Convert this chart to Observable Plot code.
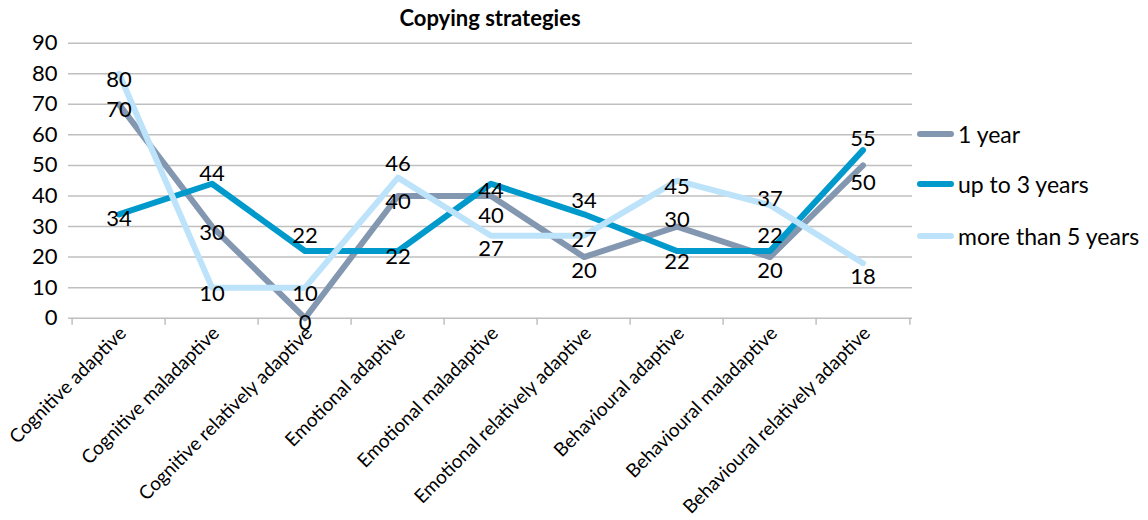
<!DOCTYPE html>
<html><head><meta charset="utf-8">
<script src="https://cdn.jsdelivr.net/npm/d3@7"></script>
<script src="https://cdn.jsdelivr.net/npm/@observablehq/plot@0.6"></script>
<style>
body{margin:0;background:#fff;font-family:Lato,sans-serif;}
#wrap{position:relative;width:1148px;height:520px;overflow:hidden;}
#title{height:34px;box-sizing:border-box;padding-top:7px;font-size:22px;font-weight:bold;line-height:1;width:980px;text-align:center;color:#000;}
.leg{position:absolute;left:917px;display:flex;align-items:center;font-size:23px;color:#000;white-space:nowrap;}
.sw{width:37px;height:6px;border-radius:3px;margin-right:4px;}
</style></head>
<body>
<div id="wrap">
<div id="title">Copying strategies</div>
<div id="chart"></div>
<div id="legend"></div>
</div>
<script>
const categories = ["Cognitive adaptive","Cognitive maladaptive","Cognitive relatively adaptive","Emotional adaptive","Emotional maladaptive","Emotional relatively adaptive","Behavioural adaptive","Behavioural maladaptive","Behavioural relatively adaptive"];
const seriesNames = ["1 year","up to 3 years","more than 5 years"];
const oneYear   = [70,30,0,40,40,20,30,20,50];
const upTo3     = [34,44,22,22,44,34,22,22,55];
const moreThan5 = [80,10,10,46,27,27,45,37,18];
const yTicks = [0,10,20,30,40,50,60,70,80,90];
const colors = ["#8497B0","#0099CC","#BDE3FA"];
// label vertical offsets (px), style only
const labelDy = [
  [6,6,5,6,20,14,-7,14,18],
  [5,-10,-15,6,7,-13,11,-15,-11],
  [6,6,6,-14,13,4,6,-6,14]
];

const W = 1148, H = 486, mL = 68, mR = 236, mT = 8.7, mB = 202.3;
const bw = (W - mL - mR) / categories.length;

const seriesVals = [oneYear, upTo3, moreThan5];
const rows = [];
seriesVals.forEach((vals, s) => vals.forEach((v, i) => rows.push({cat: categories[i], value: v, series: seriesNames[s], s, i})));

const gridColor = "#BFBFBF";
const marks = [
  Plot.ruleY(yTicks, {stroke: gridColor, strokeWidth: 1.5}),
  Plot.ruleX(categories, {x: d => d, y1: 0, y2: -2.3, dx: -bw/2, stroke: gridColor, strokeWidth: 1.5}),
  Plot.ruleX([categories[categories.length-1]], {x: d => d, y1: 0, y2: -2.3, dx: bw/2, stroke: gridColor, strokeWidth: 1.5}),
  Plot.axisY({ticks: yTicks, tickSize: 0, tickPadding: 11, fontSize: 22, fill: "#000"}),
  Plot.axisX({tickSize: 0, tickRotate: -45, tickPadding: 12, dx: 4, fontSize: 19, fill: "#000"}),
];
seriesNames.forEach((name, s) => {
  marks.push(Plot.line(rows.filter(r => r.s === s), {x: "cat", y: "value", stroke: colors[s], strokeWidth: 6, strokeLinejoin: "round", strokeLinecap: "round"}));
});
rows.forEach(r => {
  marks.push(Plot.text([r], {x: "cat", y: "value", text: d => String(d.value), dy: labelDy[r.s][r.i], fontSize: 22, fill: "#000"}));
});

const chart = Plot.plot({
  width: W, height: H,
  marginLeft: mL, marginRight: mR, marginTop: mT, marginBottom: mB,
  style: {fontFamily: "Lato, sans-serif", background: "#fff", overflow: "visible"},
  x: {type: "band", domain: categories, padding: 0, label: null},
  y: {domain: [0, 90], label: null},
  marks
});
document.getElementById("chart").appendChild(chart);

const legendY = [134, 184, 236];
const legend = document.getElementById("legend");
seriesNames.forEach((name, s) => {
  const d = document.createElement("div");
  d.className = "leg";
  d.style.top = (legendY[s] - 14) + "px";
  d.style.height = "28px";
  const sw = document.createElement("div");
  sw.className = "sw";
  sw.style.background = colors[s];
  const t = document.createElement("span");
  t.textContent = name;
  d.appendChild(sw); d.appendChild(t);
  legend.appendChild(d);
});
</script>
</body></html>
